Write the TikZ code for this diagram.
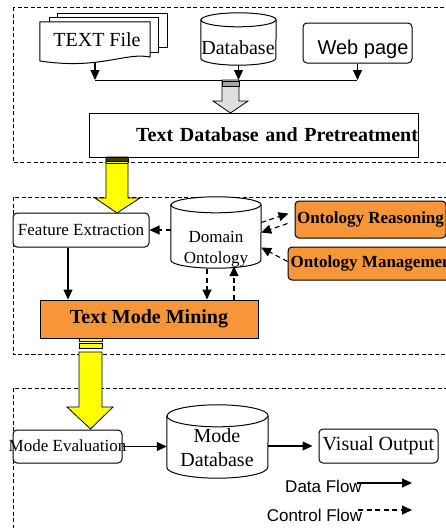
\documentclass[tikz,border=0pt]{standalone}
\usepackage{fontspec}
\setmainfont{Liberation Serif}
\newfontfamily\arialfont{Liberation Sans}
\usetikzlibrary{calc,arrows.meta}
\definecolor{boxorange}{RGB}{247,150,56}
\definecolor{arrowyellow}{RGB}{255,255,0}
\tikzset{
  midtext/.style={font=\fontsize{17}{21}\selectfont},
  bigtext/.style={font=\fontsize{20}{24}\selectfont},
  box/.style={draw,line width=1pt,fill=white,inner sep=0pt,rounded corners=4pt},
  dbase/.style={inner sep=0pt},
  flow/.style={-{Triangle[length=10pt,width=9pt]},line width=1.1pt},
  ctrl/.style={flow,dash pattern=on 5pt off 3.5pt},
  frame/.style={line width=0.8pt,dash pattern=on 4pt off 2.5pt}
}
\begin{document}
\begin{tikzpicture}[x=1pt,y=-1pt]
\useasboundingbox (0,0) rectangle (446,528);
\clip (0,0) rectangle (446,528);
\fill[white] (0,0) rectangle (446,528);

\draw[frame] (13,7) rectangle (470,162);
\draw[frame] (13,197) rectangle (470,354);
\draw[frame] (13,388) rectangle (470,545);

\draw[line width=1pt,fill=white] (57,13) rectangle (167,47);
\draw[line width=1pt,fill=white] (49,17) rectangle (158,52);
\node[inner sep=0pt,minimum width=110pt,minimum height=40pt] (txt) at (95,42) {};
\draw[line width=1pt,fill=white] (txt.north west) -- (txt.north east) -- (150,57)
  .. controls (125,52) and (100,70) .. (40,61) -- cycle;
\node[bigtext,inner sep=0pt] (txtlbl) at (97,40) {TEXT File};

\node[dbase,minimum width=75pt,minimum height=52pt] (db) at (238.5,39) {};
\draw[line width=1pt,fill=white] ([yshift=-7pt]db.north west) -- ([yshift=7pt]db.south west)
  arc[start angle=180,end angle=360,x radius=37.5pt,y radius=7pt]
  -- ([yshift=-7pt]db.north east) arc[start angle=0,end angle=180,x radius=37.5pt,y radius=7pt] -- cycle;
\draw[line width=1pt] ([yshift=-7pt]db.north west) arc[start angle=180,end angle=360,x radius=37.5pt,y radius=7pt];
\node[bigtext,inner sep=0pt] (dblbl) at (238,48) {Database};

\node[box,minimum width=109pt,minimum height=40pt] (web) at (357.5,43) {};
\node[font=\arialfont\fontsize{20}{24}\selectfont,inner sep=0pt] (weblbl) at (363,49) {Web page};

\coordinate (busL) at (95,80);
\coordinate (busR) at (357,80);
\draw[line width=1pt] (busL) -- (busR);
\draw[flow] (txt.south) -- (txt.south |- busL);
\draw[flow] (db.south) -- (db.south |- busL);
\draw[flow] (web.south) -- (web.south |- busL);

\draw[line width=0.8pt,fill=gray!25] (222,80) -- (239,80) -- (239,101) -- (248,101)
  -- (230.5,113) -- (213,101) -- (222,101) -- cycle;
\draw[line width=0.8pt,fill=gray!70] (222,81) rectangle (239,86);

\node[box,rounded corners=0pt,minimum height=44pt,text width=329pt,align=right,
  font=\bfseries\fontsize{20}{24}\selectfont] (pre) at (253.5,135) {Text Database and Pretreatment};

\draw[line width=0.8pt,fill=arrowyellow] (106,157) -- (128,157) -- (128,198) -- (140,198)
  -- (117,213) -- (95,198) -- (106,198) -- cycle;
\draw[line width=0.8pt,fill=black!75!arrowyellow] (106,157) rectangle (128,161);
\draw[line width=0.8pt] (106,163.5) -- (128,163.5);

\node[box,midtext,minimum width=136pt,minimum height=34pt] (fe) at (81,230) {Feature Extraction};

\node[dbase,minimum width=90pt,minimum height=71pt] (dom) at (216,232.5) {};
\draw[line width=1pt,fill=white] ([yshift=-8pt]dom.north west) -- ([yshift=8pt]dom.south west)
  arc[start angle=180,end angle=360,x radius=45pt,y radius=8pt]
  -- ([yshift=-8pt]dom.north east) arc[start angle=0,end angle=180,x radius=45pt,y radius=8pt] -- cycle;
\draw[line width=1pt] ([yshift=-8pt]dom.north west) arc[start angle=180,end angle=360,x radius=45pt,y radius=8pt];
\node[midtext,align=center,inner sep=0pt] (domlbl) at (216,249) {Domain\\Ontology};

\node[box,fill=boxorange,minimum width=151pt,minimum height=37pt,
  font=\bfseries\fontsize{17}{21}\selectfont] (reas) at (370.5,219.5) {Ontology Reasoning};
\node[box,fill=boxorange,minimum width=172pt,minimum height=33pt,
  font=\bfseries\fontsize{17}{21}\selectfont] (mgmt) at (374,263.5) {Ontology Management};

\node[box,rounded corners=0pt,fill=boxorange,minimum width=218pt,minimum height=38pt,
  font=\bfseries\fontsize{20}{24}\selectfont] (mine) at (149,319) {Text Mode Mining};

\draw[ctrl] (fe.east -| dom.west) -- (fe.east);
\draw[ctrl] ([yshift=10pt]dom.east) -- ([xshift=-6pt,yshift=6pt]reas.west);
\draw[ctrl] ([xshift=-7pt,yshift=-4pt]reas.west) -- (dom.east);
\draw[ctrl] ([yshift=2pt]mgmt.west) -- ([yshift=-15pt]dom.east);
\draw[flow] ([xshift=-13pt]fe.south) -- ([xshift=-13pt]fe.south |- mine.north);
\draw[ctrl] ([xshift=-9pt,yshift=-1pt]dom.south) -- ([xshift=-9pt]dom.south |- mine.north);
\draw[ctrl] ([xshift=18pt]dom.south |- mine.north) -- ([xshift=18pt,yshift=2pt]dom.south);

\draw[line width=0.8pt,fill=arrowyellow] (79,352) -- (102,352) -- (102,407) -- (113,407)
  -- (90.5,429) -- (67,407) -- (79,407) -- cycle;
\draw[line width=0.8pt,fill=arrowyellow] (79,338) rectangle (102,341);
\draw[line width=0.8pt,fill=arrowyellow] (79,343) rectangle (102,348);

\node[box,minimum width=109pt,minimum height=33pt] (eval) at (67.5,446.5) {};
\node[midtext,inner sep=0pt] (evallbl) at (67.5,446) {Mode Evaluation};

\node[dbase,minimum width=101pt,minimum height=73pt] (mdb) at (217.5,441.5) {};
\draw[line width=1pt,fill=white] ([yshift=-11pt]mdb.north west) -- ([yshift=11pt]mdb.south west)
  arc[start angle=180,end angle=360,x radius=50.5pt,y radius=11pt]
  -- ([yshift=-11pt]mdb.north east) arc[start angle=0,end angle=180,x radius=50.5pt,y radius=11pt] -- cycle;
\draw[line width=1pt] ([yshift=-11pt]mdb.north west) arc[start angle=180,end angle=360,x radius=50.5pt,y radius=11pt];
\node[bigtext,align=center,inner sep=0pt] (mdblbl) at (217,448) {Mode\\Database};

\node[box,bigtext,minimum width=119pt,minimum height=34pt] (vis) at (378.5,446) {Visual Output};

\draw[flow] (eval.east) -- (eval.east -| mdb.west);
\draw[flow,shorten >=6pt] (mdb.east |- vis.west) -- (vis.west);

\node[font=\arialfont\fontsize{17}{21}\selectfont,inner sep=0pt] (dflow) at (323.5,486) {Data Flow};
\node[font=\arialfont\fontsize{17}{21}\selectfont,inner sep=0pt] (cflow) at (314.5,515) {Control Flow};
\coordinate (dfa) at (357,483);
\coordinate (dfb) at (412,483);
\coordinate (cfa) at (358,510);
\coordinate (cfb) at (412,510);
\draw[flow] (dfa) -- (dfb);
\draw[ctrl] (cfa) -- (cfb);
\end{tikzpicture}
\end{document}
